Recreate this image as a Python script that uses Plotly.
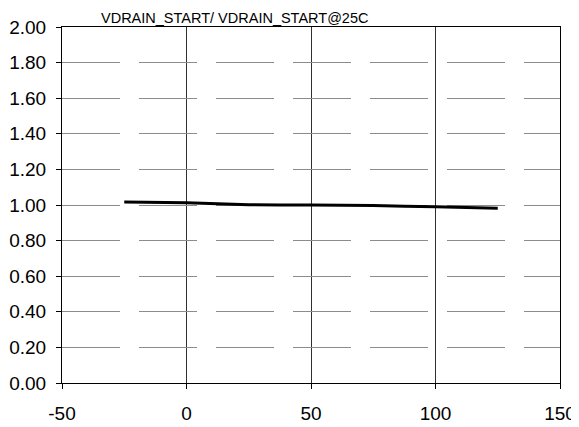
import plotly.graph_objects as go

temps = [-25, 0, 25, 50, 75, 100, 125]
ratio = [1.017, 1.013, 1.001, 1.000, 0.997, 0.990, 0.982]
title_text = "VDRAIN_START/ VDRAIN_START@25C"
x_ticks = [-50, 0, 50, 100, 150]
y_ticks = [0.0, 0.2, 0.4, 0.6, 0.8, 1.0, 1.2, 1.4, 1.6, 1.8, 2.0]

fig = go.Figure()
fig.add_trace(go.Scatter(x=temps, y=ratio, mode="lines",
                         line=dict(color="black", width=3, shape="spline", smoothing=0.5),
                         showlegend=False, hoverinfo="skip"))

family = "Liberation Sans, Arial, sans-serif"
font = dict(family=family, size=19, color="black")

# page body has an 8px default margin, so the figure is 8px smaller and offset
fig.update_layout(
    width=571, height=419,
    margin=dict(l=54, r=19, t=19, b=44),
    paper_bgcolor="white", plot_bgcolor="white",
    font=font,
)
fig.add_annotation(text=title_text, xref="x", x=(234.5 - 62) / 2.49 - 50, xanchor="center",
                   yref="paper", y=1.0, yanchor="bottom", yshift=-1, showarrow=False,
                   font=dict(family=family, size=14.5, color="black"))

fig.update_xaxes(range=[-50, 150], tickvals=x_ticks, ticktext=[str(v) for v in x_ticks],
                 showgrid=True, gridcolor="#303030", gridwidth=1,
                 showline=True, linecolor="black", linewidth=1, mirror=True,
                 ticks="outside", ticklen=5, tickcolor="black", zeroline=False,
                 ticklabelstandoff=8, tickfont=font, automargin=False)
fig.update_yaxes(range=[0, 2.0], tickvals=y_ticks, ticktext=[f"{v:.2f}" for v in y_ticks],
                 showgrid=True, gridcolor="#8c8c8c", gridwidth=1, griddash="58px,19px",
                 showline=True, linecolor="black", linewidth=1, mirror=True,
                 ticks="outside", ticklen=5, tickcolor="black", zeroline=False,
                 ticklabelstandoff=6, tickfont=font, automargin=False)

fig.write_html("out.html")
